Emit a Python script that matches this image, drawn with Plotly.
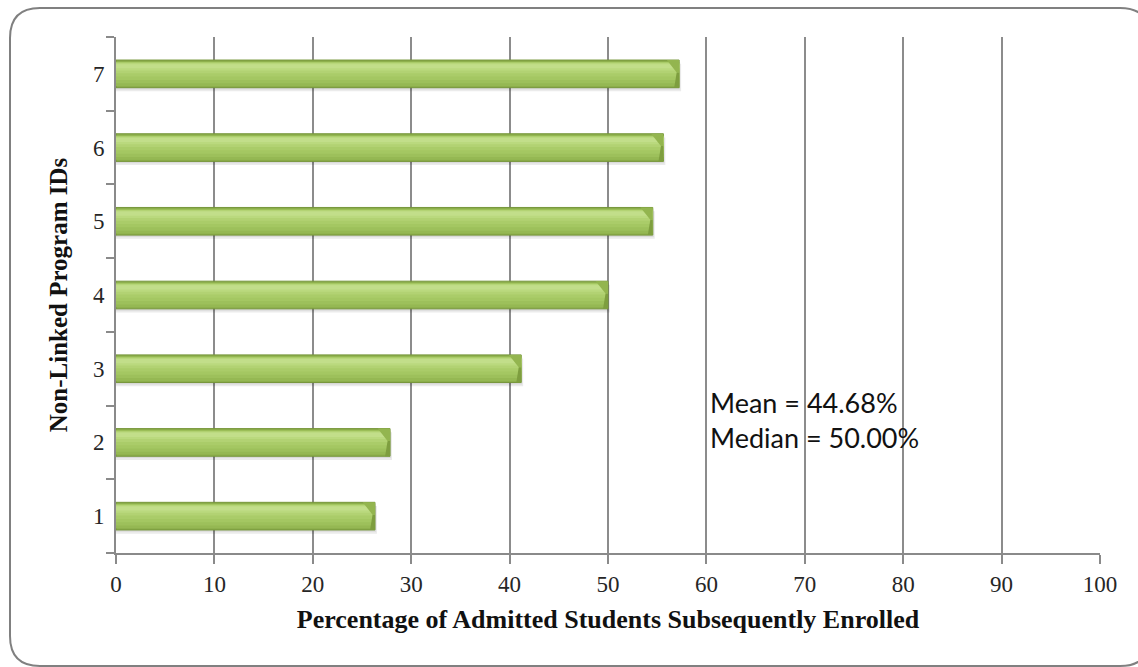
import plotly.graph_objects as go

# Enrollment rate per non-linked program
program_ids = ["1", "2", "3", "4", "5", "6", "7"]
pct_enrolled = [26.32, 27.85, 41.18, 50.00, 54.55, 55.63, 57.23]
x_ticks = [0, 10, 20, 30, 40, 50, 60, 70, 80, 90, 100]
stats_text = "Mean = 44.68%<br>Median = 50.00%"

W, H = 1138, 667
ML, MR, MT, MB = 116, 38, 37, 114
PW, PH = W - ML - MR, H - MT - MB

BAR_W = 0.375
BASE = -BAR_W / 2

fig = go.Figure()


def band(color, frac_lo, frac_hi, **kw):
    """Horizontal band of each bar, between two fractions of its height."""
    return go.Bar(
        x=pct_enrolled, y=program_ids, orientation="h",
        width=BAR_W * (frac_hi - frac_lo), offset=BASE + BAR_W * frac_lo,
        marker=dict(color=color, line=dict(width=0)),
        hoverinfo="skip", showlegend=False, **kw)


# soft drop shadow under each bar
fig.add_trace(go.Bar(
    x=[v + 0.2 for v in pct_enrolled], y=program_ids, orientation="h",
    width=BAR_W, offset=BASE - 0.05,
    marker=dict(color="rgba(0,0,0,0.08)", line=dict(width=0)),
    hoverinfo="skip", showlegend=False))
fig.add_trace(go.Bar(
    x=[v + 0.1 for v in pct_enrolled], y=program_ids, orientation="h",
    width=BAR_W, offset=BASE - 0.025,
    marker=dict(color="rgba(0,0,0,0.07)", line=dict(width=0)),
    hoverinfo="skip", showlegend=False))
# dark body with outline
fig.add_trace(go.Bar(
    x=pct_enrolled, y=program_ids, orientation="h",
    width=BAR_W, offset=BASE,
    marker=dict(color="#8cae4b", line=dict(color="#76963a", width=1)),
    showlegend=False))
# vertical shading, darker at the bottom, lighter toward the top
fig.add_trace(band("#95b853", 0.06, 0.94))
fig.add_trace(band("#9dc05b", 0.16, 0.93))
fig.add_trace(band("#a4c762", 0.28, 0.92))
fig.add_trace(band("#aacc69", 0.40, 0.91))
fig.add_trace(band("#b2d273", 0.52, 0.90))
fig.add_trace(band("#bad97e", 0.62, 0.88))
fig.add_trace(band("#c2de8a", 0.70, 0.85))

# bevelled right end cap, built from each bar's value
shapes = []
for i, v in enumerate(pct_enrolled):
    lo, hi = i + BASE, i + BASE + BAR_W
    mid = i + 0.02
    shapes.append(dict(
        type="path", xref="x", yref="y", layer="above",
        path=f"M {v-1.25},{hi} L {v},{hi} L {v},{mid} L {v-0.25},{mid} Z",
        fillcolor="#93b54f", line=dict(width=0)))
    shapes.append(dict(
        type="path", xref="x", yref="y", layer="above",
        path=f"M {v-0.25},{mid} L {v},{mid} L {v},{lo} L {v-0.5},{lo} Z",
        fillcolor="#7e9e3f", line=dict(width=0)))


def px_to_paper(px, py):
    return (px - ML) / PW, 1 - (py - MT) / PH


def P(px, py):
    x, y = px_to_paper(px, py)
    return f"{x:.5f},{y:.5f}"


# rounded frame around the chart
L, T, R, B, RAD = 10, 8, 1150, 666, 30
frame = (f"M {P(L+RAD, T)} L {P(R-RAD, T)} Q {P(R, T)} {P(R, T+RAD)} "
         f"L {P(R, B-RAD)} Q {P(R, B)} {P(R-RAD, B)} "
         f"L {P(L+RAD, B)} Q {P(L, B)} {P(L, B-RAD)} "
         f"L {P(L, T+RAD)} Q {P(L, T)} {P(L+RAD, T)} Z")
shapes.append(dict(type="path", xref="paper", yref="paper", path=frame,
                   line=dict(color="#808080", width=2), layer="below"))

serif = "Liberation Serif, Times New Roman, serif"

fig.update_layout(
    width=W, height=H,
    margin=dict(l=ML, r=MR, t=MT, b=MB),
    paper_bgcolor="white", plot_bgcolor="white",
    barmode="overlay",
    shapes=shapes,
    font=dict(family=serif, color="#1a1a1a"),
    xaxis=dict(
        range=[0, 100], tickvals=x_ticks, showgrid=True,
        gridcolor="#8c8c8c", gridwidth=2,
        showline=True, linecolor="#8a8a8a", linewidth=2,
        ticks="outside", ticklen=9, tickwidth=2, tickcolor="#8a8a8a",
        tickfont=dict(size=23, family=serif, color="#262626"),
        zeroline=False,
        title=dict(text="<b>Percentage of Admitted Students Subsequently Enrolled</b>",
                   font=dict(size=26, family=serif, color="#111111"), standoff=14),
    ),
    yaxis=dict(
        type="category", categoryorder="array", categoryarray=program_ids,
        range=[-0.5, 6.5], tickson="boundaries",
        showgrid=False, showline=True, linecolor="#8a8a8a", linewidth=2,
        ticks="outside", ticklen=8, tickwidth=2, tickcolor="#8a8a8a",
        ticklabelstandoff=5,
        tickfont=dict(size=23, family=serif, color="#262626"),
        title=dict(text="<b>Non-Linked Program IDs</b>",
                   font=dict(size=25, family=serif, color="#111111"), standoff=18),
    ),
    annotations=[dict(
        x=60.2, y=1.30, xref="x", yref="y", xanchor="left", yanchor="middle",
        text=stats_text, showarrow=False, align="left",
        font=dict(family="Lato, Carlito, Calibri, sans-serif", size=27, color="#111111"),
    )],
)

fig.write_html("out.html")
